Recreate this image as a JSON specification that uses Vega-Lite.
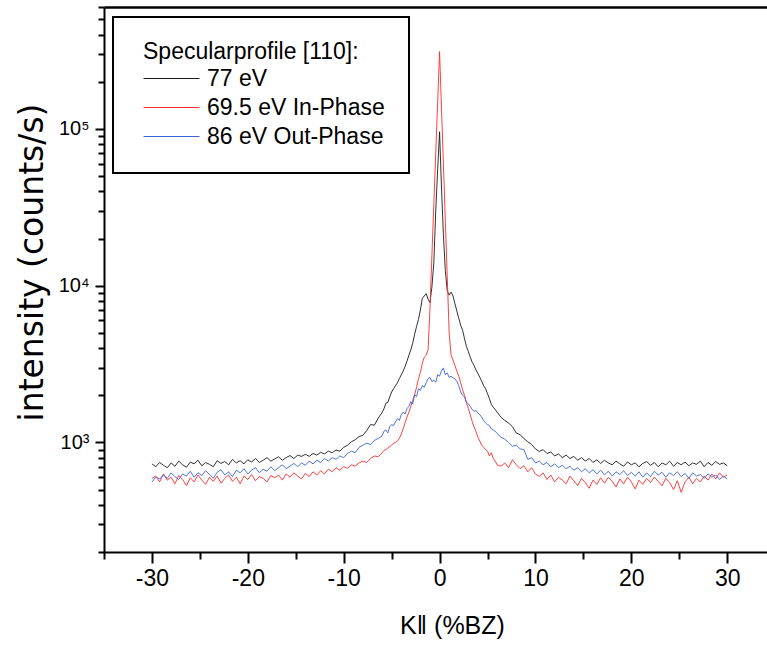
{
  "$schema": "https://vega.github.io/schema/vega-lite/v6.json",
  "width": 663,
  "height": 545,
  "autosize": {"type": "none"},
  "padding": {"left": 104, "top": 7, "right": 0, "bottom": 98},
  "background": "white",
  "data": {
    "values": [
      {"x": -30, "a": 730, "b": 590, "c": 560},
      {"x": -29.6, "a": 700, "b": 610, "c": 600},
      {"x": -29.2, "a": 745, "b": 560, "c": 585},
      {"x": -28.8, "a": 715, "b": 630, "c": 620},
      {"x": -28.4, "a": 690, "b": 575, "c": 590},
      {"x": -28, "a": 740, "b": 600, "c": 640},
      {"x": -27.6, "a": 705, "b": 545, "c": 605},
      {"x": -27.2, "a": 760, "b": 615, "c": 580},
      {"x": -26.8, "a": 720, "b": 580, "c": 630},
      {"x": -26.4, "a": 695, "b": 530, "c": 610},
      {"x": -26, "a": 750, "b": 595, "c": 655},
      {"x": -25.6, "a": 730, "b": 560, "c": 600},
      {"x": -25.2, "a": 770, "b": 620, "c": 640},
      {"x": -24.8, "a": 710, "b": 575, "c": 615},
      {"x": -24.4, "a": 745, "b": 540, "c": 660},
      {"x": -24, "a": 725, "b": 600, "c": 625},
      {"x": -23.6, "a": 700, "b": 565, "c": 590},
      {"x": -23.2, "a": 765, "b": 610, "c": 645},
      {"x": -22.8, "a": 735, "b": 550, "c": 670},
      {"x": -22.4, "a": 755, "b": 590, "c": 620},
      {"x": -22, "a": 720, "b": 620, "c": 650},
      {"x": -21.6, "a": 780, "b": 565, "c": 605},
      {"x": -21.2, "a": 740, "b": 600, "c": 665},
      {"x": -20.8, "a": 765, "b": 545, "c": 640},
      {"x": -20.4, "a": 730, "b": 610, "c": 680},
      {"x": -20, "a": 775, "b": 580, "c": 630},
      {"x": -19.6, "a": 750, "b": 625, "c": 665},
      {"x": -19.2, "a": 790, "b": 570, "c": 690},
      {"x": -18.8, "a": 745, "b": 605, "c": 640},
      {"x": -18.4, "a": 770, "b": 590, "c": 675},
      {"x": -18, "a": 800, "b": 560, "c": 655},
      {"x": -17.6, "a": 760, "b": 615, "c": 700},
      {"x": -17.2, "a": 785, "b": 595, "c": 660},
      {"x": -16.8, "a": 810, "b": 620, "c": 690},
      {"x": -16.4, "a": 770, "b": 575, "c": 720},
      {"x": -16, "a": 800, "b": 630, "c": 680},
      {"x": -15.6, "a": 825, "b": 600, "c": 705},
      {"x": -15.2, "a": 790, "b": 640, "c": 735},
      {"x": -14.8, "a": 830, "b": 610, "c": 700},
      {"x": -14.4, "a": 815, "b": 585, "c": 740},
      {"x": -14, "a": 840, "b": 635, "c": 715},
      {"x": -13.6, "a": 815, "b": 605, "c": 760},
      {"x": -13.2, "a": 850, "b": 650, "c": 730},
      {"x": -12.8, "a": 830, "b": 620, "c": 770},
      {"x": -12.4, "a": 865, "b": 660, "c": 745},
      {"x": -12, "a": 845, "b": 630, "c": 790},
      {"x": -11.6, "a": 880, "b": 675, "c": 760},
      {"x": -11.2, "a": 860, "b": 650, "c": 800},
      {"x": -10.8, "a": 895, "b": 690, "c": 780},
      {"x": -10.4, "a": 880, "b": 665, "c": 820},
      {"x": -10, "a": 930, "b": 700, "c": 800},
      {"x": -9.6, "a": 960, "b": 685, "c": 850},
      {"x": -9.2, "a": 1010, "b": 720, "c": 880},
      {"x": -8.8, "a": 1040, "b": 705, "c": 860},
      {"x": -8.4, "a": 1090, "b": 740, "c": 930},
      {"x": -8, "a": 1110, "b": 760, "c": 960},
      {"x": -7.6, "a": 1190, "b": 745, "c": 990},
      {"x": -7.2, "a": 1300, "b": 790, "c": 970},
      {"x": -6.8, "a": 1290, "b": 820, "c": 1030},
      {"x": -6.4, "a": 1430, "b": 810, "c": 1060},
      {"x": -6, "a": 1550, "b": 860, "c": 1100},
      {"x": -5.8, "a": 1640, "b": 890, "c": 1180},
      {"x": -5.6, "a": 1780, "b": 900, "c": 1200},
      {"x": -5.4, "a": 1800, "b": 920, "c": 1150},
      {"x": -5.2, "a": 1950, "b": 940, "c": 1260},
      {"x": -5, "a": 2100, "b": 960, "c": 1300},
      {"x": -4.8, "a": 2200, "b": 990, "c": 1280},
      {"x": -4.6, "a": 2300, "b": 1000, "c": 1350},
      {"x": -4.4, "a": 2400, "b": 1020, "c": 1420},
      {"x": -4.2, "a": 2550, "b": 1060, "c": 1380},
      {"x": -4, "a": 2700, "b": 1130, "c": 1500},
      {"x": -3.8, "a": 2850, "b": 1220, "c": 1560},
      {"x": -3.6, "a": 3050, "b": 1340, "c": 1520},
      {"x": -3.4, "a": 3300, "b": 1450, "c": 1640},
      {"x": -3.2, "a": 3600, "b": 1560, "c": 1700},
      {"x": -3, "a": 3900, "b": 1700, "c": 1820},
      {"x": -2.8, "a": 4300, "b": 1850, "c": 1760},
      {"x": -2.6, "a": 4900, "b": 2020, "c": 2020},
      {"x": -2.4, "a": 5500, "b": 2250, "c": 1960},
      {"x": -2.2, "a": 6100, "b": 2550, "c": 2200},
      {"x": -2, "a": 7000, "b": 2800, "c": 2150},
      {"x": -1.8, "a": 8300, "b": 3200, "c": 2300},
      {"x": -1.6, "a": 8600, "b": 3500, "c": 2250},
      {"x": -1.4, "a": 8900, "b": 3600, "c": 2400},
      {"x": -1.2, "a": 8200, "b": 3900, "c": 2550},
      {"x": -1, "a": 7800, "b": 7200, "c": 2600},
      {"x": -0.8, "a": 9800, "b": 15500, "c": 2450},
      {"x": -0.6, "a": 14000, "b": 33000, "c": 2500},
      {"x": -0.4, "a": 30000, "b": 70000, "c": 2420},
      {"x": -0.2, "a": 55000, "b": 148000, "c": 2700},
      {"x": 0, "a": 96000, "b": 312000, "c": 2650},
      {"x": 0.2, "a": 42000, "b": 136000, "c": 2850},
      {"x": 0.4, "a": 21000, "b": 60000, "c": 2990},
      {"x": 0.6, "a": 12500, "b": 26000, "c": 2700},
      {"x": 0.8, "a": 9300, "b": 11400, "c": 2780},
      {"x": 1, "a": 8700, "b": 5000, "c": 2600},
      {"x": 1.2, "a": 9100, "b": 3600, "c": 2650},
      {"x": 1.4, "a": 8600, "b": 3350, "c": 2580},
      {"x": 1.6, "a": 7700, "b": 3100, "c": 2550},
      {"x": 1.8, "a": 6900, "b": 2850, "c": 2450},
      {"x": 2, "a": 6200, "b": 2650, "c": 2300},
      {"x": 2.2, "a": 5600, "b": 2400, "c": 2100},
      {"x": 2.4, "a": 5200, "b": 2170, "c": 2000},
      {"x": 2.6, "a": 4600, "b": 2000, "c": 1950},
      {"x": 2.8, "a": 4100, "b": 1800, "c": 1800},
      {"x": 3, "a": 3800, "b": 1650, "c": 1760},
      {"x": 3.2, "a": 3500, "b": 1500, "c": 1700},
      {"x": 3.4, "a": 3250, "b": 1360, "c": 1620},
      {"x": 3.6, "a": 3100, "b": 1260, "c": 1580},
      {"x": 3.8, "a": 2900, "b": 1170, "c": 1600},
      {"x": 4, "a": 2750, "b": 1080, "c": 1540},
      {"x": 4.2, "a": 2600, "b": 1020, "c": 1500},
      {"x": 4.4, "a": 2450, "b": 960, "c": 1450},
      {"x": 4.6, "a": 2300, "b": 930, "c": 1380},
      {"x": 4.8, "a": 2200, "b": 900, "c": 1330},
      {"x": 5, "a": 2050, "b": 880, "c": 1300},
      {"x": 5.2, "a": 1900, "b": 820, "c": 1280},
      {"x": 5.4, "a": 1750, "b": 860, "c": 1220},
      {"x": 5.6, "a": 1680, "b": 790, "c": 1200},
      {"x": 5.8, "a": 1620, "b": 760, "c": 1180},
      {"x": 6, "a": 1560, "b": 720, "c": 1140},
      {"x": 6.4, "a": 1450, "b": 705, "c": 1080},
      {"x": 6.8, "a": 1380, "b": 740, "c": 1050},
      {"x": 7.2, "a": 1330, "b": 690, "c": 1000},
      {"x": 7.6, "a": 1260, "b": 776, "c": 945},
      {"x": 8, "a": 1150, "b": 720, "c": 960},
      {"x": 8.4, "a": 1120, "b": 680, "c": 910},
      {"x": 8.8, "a": 1060, "b": 710, "c": 900},
      {"x": 9.2, "a": 1010, "b": 650, "c": 780},
      {"x": 9.6, "a": 970, "b": 690, "c": 800},
      {"x": 10, "a": 910, "b": 630, "c": 740},
      {"x": 10.4, "a": 876, "b": 607, "c": 760},
      {"x": 10.8, "a": 900, "b": 640, "c": 720},
      {"x": 11.2, "a": 850, "b": 580, "c": 745},
      {"x": 11.6, "a": 870, "b": 620, "c": 700},
      {"x": 12, "a": 820, "b": 560, "c": 730},
      {"x": 12.4, "a": 845, "b": 600, "c": 690},
      {"x": 12.8, "a": 800, "b": 575, "c": 715},
      {"x": 13.2, "a": 830, "b": 545, "c": 680},
      {"x": 13.6, "a": 790, "b": 610, "c": 705},
      {"x": 14, "a": 815, "b": 570, "c": 665},
      {"x": 14.4, "a": 770, "b": 530, "c": 690},
      {"x": 14.8, "a": 800, "b": 590, "c": 650},
      {"x": 15.2, "a": 760, "b": 555, "c": 680},
      {"x": 15.6, "a": 790, "b": 510, "c": 640},
      {"x": 16, "a": 745, "b": 575, "c": 670},
      {"x": 16.4, "a": 775, "b": 540, "c": 630},
      {"x": 16.8, "a": 735, "b": 595, "c": 665},
      {"x": 17.2, "a": 770, "b": 550, "c": 620},
      {"x": 17.6, "a": 740, "b": 600, "c": 655},
      {"x": 18, "a": 720, "b": 565, "c": 610},
      {"x": 18.4, "a": 760, "b": 520, "c": 650},
      {"x": 18.8, "a": 730, "b": 585, "c": 625},
      {"x": 19.2, "a": 705, "b": 545, "c": 660},
      {"x": 19.6, "a": 750, "b": 600, "c": 615},
      {"x": 20, "a": 720, "b": 560, "c": 645},
      {"x": 20.4, "a": 740, "b": 505, "c": 610},
      {"x": 20.8, "a": 700, "b": 575, "c": 650},
      {"x": 21.2, "a": 735, "b": 540, "c": 600},
      {"x": 21.6, "a": 755, "b": 590, "c": 640},
      {"x": 22, "a": 715, "b": 555, "c": 605},
      {"x": 22.4, "a": 745, "b": 600, "c": 655},
      {"x": 22.8, "a": 700, "b": 565, "c": 620},
      {"x": 23.2, "a": 740, "b": 530, "c": 645},
      {"x": 23.6, "a": 720, "b": 590, "c": 600},
      {"x": 24, "a": 760, "b": 555, "c": 640},
      {"x": 24.4, "a": 705, "b": 500, "c": 615},
      {"x": 24.8, "a": 745, "b": 570, "c": 650},
      {"x": 25.2, "a": 720, "b": 480, "c": 605},
      {"x": 25.6, "a": 750, "b": 560, "c": 635},
      {"x": 26, "a": 710, "b": 600, "c": 590},
      {"x": 26.4, "a": 740, "b": 545, "c": 640},
      {"x": 26.8, "a": 725, "b": 590, "c": 610},
      {"x": 27.2, "a": 760, "b": 560, "c": 625},
      {"x": 27.6, "a": 700, "b": 610, "c": 590},
      {"x": 28, "a": 745, "b": 575, "c": 630},
      {"x": 28.4, "a": 715, "b": 630, "c": 600},
      {"x": 28.8, "a": 755, "b": 585, "c": 620},
      {"x": 29.2, "a": 725, "b": 640, "c": 580},
      {"x": 29.6, "a": 740, "b": 600, "c": 610},
      {"x": 30, "a": 710, "b": 620, "c": 585}
    ]
  },
  "layer": [
    {
      "mark": {"type": "line", "strokeWidth": 0.9},
      "encoding": {
        "x": {
          "field": "x", "type": "quantitative",
          "scale": {"domain": [-35, 34.15], "nice": false, "zero": false},
          "axis": {
            "orient": "bottom", "values": [-30, -20, -10, 0, 10, 20, 30],
            "tickSize": 11, "labelFontSize": 23, "labelPadding": 4,
            "labelFont": "Liberation Sans Narrow, Liberation Sans",
            "labelExpr": "datum.value < 0 ? '-' + abs(datum.value) : '' + datum.value",
            "title": "K‖ (%BZ)", "titleFontSize": 25, "titlePadding": 23,
            "titleFont": "Liberation Sans Narrow, Liberation Sans",
            "titleX": 348
          }
        },
        "y": {
          "field": "a", "type": "quantitative",
          "scale": {"type": "log", "domain": [200, 600000], "nice": false},
          "axis": {
            "orient": "left", "values": [1000, 10000, 100000],
            "tickSize": 9, "labelFontSize": 20, "labelPadding": 6,
            "labelExpr": "datum.value == 1000 ? '10³' : datum.value == 10000 ? '10⁴' : '10⁵'",
            "title": "intensity (counts/s)", "titleFontSize": 33,
            "titleFont": "DejaVu Sans",
            "titleX": -72, "titleY": 255, "titleAlign": "center", "titleBaseline": "middle", "titleAngle": -90
          }
        },
        "color": {
          "datum": "77 eV",
          "type": "nominal",
          "scale": {
            "domain": ["77 eV", "69.5 eV In-Phase", "86 eV Out-Phase"],
            "range": ["#1a1a1a", "#ff2a2a", "#3d63d6"]
          },
          "legend": {
            "orient": "none", "legendX": 9, "legendY": 10,
            "title": "Specularprofile [110]:",
            "titleFontSize": 23, "titleFontWeight": "normal", "titleColor": "black",
            "titlePadding": 2, "titleLimit": 500,
            "labelFontSize": 23, "labelColor": "black", "labelOffset": 7, "labelLimit": 500,
            "symbolType": "stroke", "symbolSize": 3136, "symbolStrokeWidth": 1,
            "symbolOffset": 6,
            "clipHeight": 25,
            "rowPadding": 4,
            "padding": 24, "strokeColor": "black", "fillColor": "white",
            "encode": {
              "legend": {"update": {"strokeWidth": {"value": 2}}},
              "title": {"update": {"dx": {"value": 6}}}
            }
          }
        }
      }
    },
    {
      "mark": {"type": "line", "strokeWidth": 0.9},
      "encoding": {
        "x": {
          "field": "x", "type": "quantitative",
          "axis": {
            "orient": "bottom", "values": [-35, -25, -15, -5, 5, 15, 25],
            "tickSize": 7, "labels": false, "domain": false, "title": null
          }
        },
        "y": {
          "field": "b", "type": "quantitative",
          "axis": {
            "orient": "left",
            "values": [200, 300, 400, 500, 600, 700, 800, 900, 2000, 3000, 4000, 5000, 6000, 7000, 8000, 9000, 20000, 30000, 40000, 50000, 60000, 70000, 80000, 90000, 200000, 300000, 400000, 500000, 600000],
            "tickSize": 6, "labels": false, "domain": false, "title": null
          }
        },
        "color": {"datum": "69.5 eV In-Phase", "type": "nominal"}
      }
    },
    {
      "mark": {"type": "line", "strokeWidth": 0.9},
      "encoding": {
        "x": {
          "field": "x", "type": "quantitative",
          "axis": {"orient": "top", "ticks": false, "labels": false, "domainWidth": 2.5, "title": null}
        },
        "y": {"field": "c", "type": "quantitative", "axis": null},
        "color": {"datum": "86 eV Out-Phase", "type": "nominal"}
      }
    }
  ],
  "resolve": {"axis": {"x": "independent", "y": "independent"}},
  "config": {
    "view": {"stroke": null},
    "font": "Liberation Sans",
    "axis": {
      "grid": false,
      "domainColor": "black", "domainWidth": 2,
      "tickColor": "black", "tickWidth": 2,
      "labelColor": "black", "titleColor": "black",
      "labelFont": "Liberation Sans", "titleFont": "Liberation Sans",
      "titleFontWeight": "normal"
    },
    "legend": {"labelFont": "Liberation Sans", "titleFont": "Liberation Sans"}
  }
}
